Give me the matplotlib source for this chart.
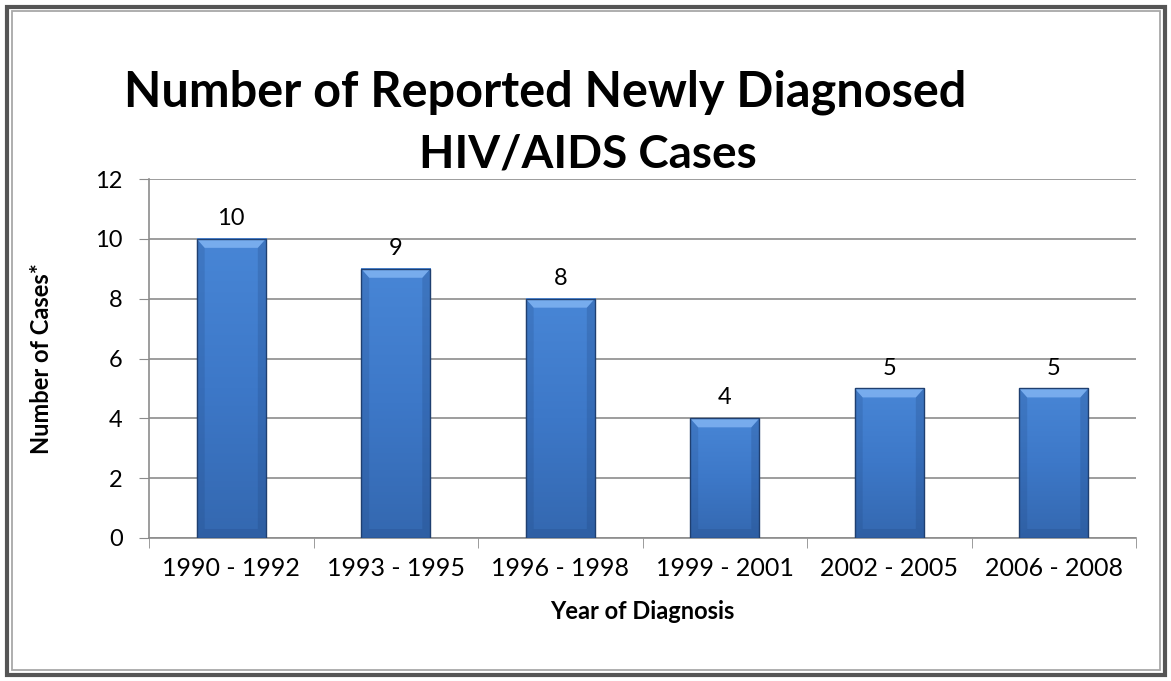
import matplotlib
matplotlib.use("Agg")
import matplotlib.pyplot as plt
import numpy as np
from matplotlib.patches import Rectangle, Polygon
from matplotlib.colors import LinearSegmentedColormap

categories = ["1990 - 1992", "1993 - 1995", "1996 - 1998", "1999 - 2001", "2002 - 2005", "2006 - 2008"]
values = [10, 9, 8, 4, 5, 5]
yticks = [0, 2, 4, 6, 8, 10, 12]

plt.rcParams['font.family'] = ['Lato', 'DejaVu Sans']

W, H = 1171, 681
fig = plt.figure(figsize=(W/100, H/100), dpi=100)

# double border
fig.patches.append(Rectangle((6.5/W, 6.5/H), (W-13)/W, (H-13)/H, transform=fig.transFigure,
                             fill=False, edgecolor='#555555', linewidth=3))
fig.patches.append(Rectangle((11.5/W, 11/H), (W-23)/W, (H-22)/H, transform=fig.transFigure,
                             fill=False, edgecolor='#a8a8a8', linewidth=1.3))

left, right, top, bottom = 149, 1136, 179, 538
ax = fig.add_axes([left/W, 1-bottom/H, (right-left)/W, (bottom-top)/H])

x = np.arange(len(categories))
ax.set_xlim(-0.5, len(categories) - 0.5)
ax.set_ylim(0, 12)

bars = ax.bar(x, values, width=0.42, color='none', edgecolor='#1f3f70', linewidth=1.0, zorder=5)

px = (len(categories)) / (right - left)
py = 12 / (bottom - top)
cmap = LinearSegmentedColormap.from_list('b', ['#3468b0', '#3d78c8', '#4886d6'])
for b in bars:
    bx, by = b.get_x(), b.get_y()
    bw, bh = b.get_width(), b.get_height()
    grad = np.linspace(0, 1, 200)[:, None] * np.ones((1, 2))
    ax.imshow(grad, cmap=cmap, extent=(bx, bx + bw, by, by + bh), aspect='auto', origin='lower',
              zorder=3, interpolation='bilinear', vmin=0, vmax=1)
    dx, dy = 8 * px, 9 * py
    ax.add_patch(Polygon([[bx, by], [bx + dx, by + dy], [bx + dx, by + bh - dy], [bx, by + bh]],
                         closed=True, facecolor='#1c3f75', alpha=0.18, edgecolor='none', zorder=4))
    ax.add_patch(Polygon([[bx + bw, by], [bx + bw - dx, by + dy], [bx + bw - dx, by + bh - dy], [bx + bw, by + bh]],
                         closed=True, facecolor='#1c3f75', alpha=0.22, edgecolor='none', zorder=4))
    ax.add_patch(Polygon([[bx, by + bh], [bx + dx, by + bh - dy], [bx + bw - dx, by + bh - dy], [bx + bw, by + bh]],
                         closed=True, facecolor='#80b3f2', alpha=0.85, edgecolor='none', zorder=4))
    ax.add_patch(Polygon([[bx, by], [bx + dx, by + dy], [bx + bw - dx, by + dy], [bx + bw, by]],
                         closed=True, facecolor='#1c3f75', alpha=0.2, edgecolor='none', zorder=4))
    ax.text(bx + bw/2, by + bh + 0.33, str(int(bh)), ha='center', va='bottom', fontsize=17, zorder=6)

ax.set_yticks(yticks)
ax.set_yticklabels([str(t) for t in yticks], fontsize=17)
ax.set_xticks(x)
ax.set_xticklabels(categories, fontsize=18)
ax.tick_params(axis='x', which='major', length=0, pad=14)
ax.set_xticks(np.arange(-0.5, len(categories)), minor=True)
ax.tick_params(axis='x', which='minor', length=7, color='#8c8c8c', direction='out')
ax.tick_params(axis='y', length=7, color='#8c8c8c', direction='out', pad=12)
ax.yaxis.grid(True, color='#8c8c8c', linewidth=1.2, zorder=0)
ax.set_axisbelow(True)
for s in ['top', 'right']:
    ax.spines[s].set_visible(False)
for s in ['left', 'bottom']:
    ax.spines[s].set_color('#8c8c8c')
    ax.spines[s].set_linewidth(1.2)

ax.set_xlabel("Year of Diagnosis", fontsize=17, fontweight='bold', labelpad=14)
ax.set_ylabel("Number of Cases*", fontsize=17, fontweight='bold', labelpad=30)

fig.text(545/W, 1-92/H, "Number of Reported Newly Diagnosed", ha='center', va='center', fontsize=35, fontweight='bold')
fig.text(588/W, 1-155/H, "HIV/AIDS Cases", ha='center', va='center', fontsize=33, fontweight='bold')

fig.savefig("out.png", dpi=100)
